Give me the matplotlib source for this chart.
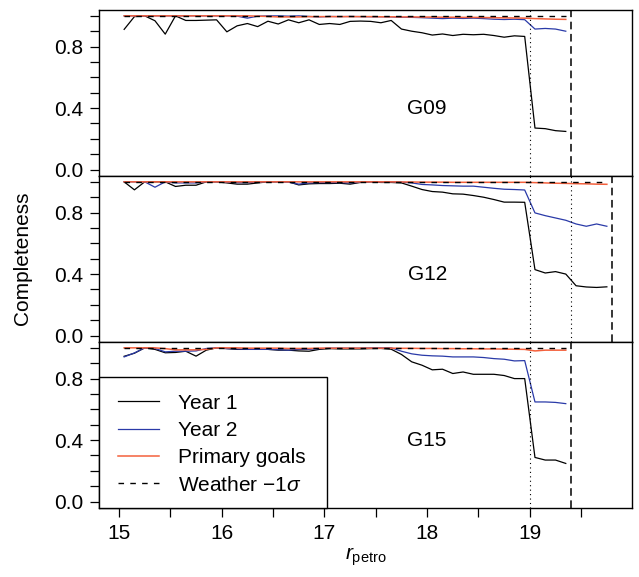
import numpy as np
import matplotlib.pyplot as plt
from matplotlib.patches import Rectangle

plt.rcParams['font.family'] = ['Liberation Sans', 'DejaVu Sans']
plt.rcParams['mathtext.fontset'] = 'custom'
plt.rcParams['mathtext.rm'] = 'Liberation Sans'
plt.rcParams['mathtext.it'] = 'Liberation Sans:italic'

# magnitude bin centres
r_bins = [15.05, 15.15, 15.25, 15.35, 15.45, 15.55, 15.65, 15.75, 15.85, 15.95,
          16.05, 16.15, 16.25, 16.35, 16.45, 16.55, 16.65, 16.75, 16.85, 16.95,
          17.05, 17.15, 17.25, 17.35, 17.45, 17.55, 17.65, 17.75, 17.85, 17.95,
          18.05, 18.15, 18.25, 18.35, 18.45, 18.55, 18.65, 18.75, 18.85, 18.95,
          19.05, 19.15, 19.25, 19.35, 19.45, 19.55, 19.65, 19.75]

g09_year1 = [0.912, 0.995, 1.0, 0.968, 0.881, 1.0, 0.97, 0.97, 0.972, 0.974,
             0.896, 0.935, 0.95, 0.93, 0.965, 0.947, 0.974, 0.955, 0.974, 0.944,
             0.95, 0.944, 0.964, 0.966, 0.964, 0.955, 0.97, 0.914, 0.9, 0.89,
             0.875, 0.882, 0.872, 0.88, 0.877, 0.88, 0.872, 0.861, 0.87, 0.866,
             0.27, 0.266, 0.253, 0.248]
g09_year2 = [1.0, 1.0, 1.0, 1.0, 1.0, 1.0, 1.0, 1.0, 1.0, 1.0,
             1.0, 0.998, 0.985, 0.998, 1.0, 1.0, 0.998, 1.0, 0.996, 0.993,
             0.996, 0.995, 0.996, 0.995, 0.994, 0.994, 0.993, 0.99, 0.99, 0.988,
             0.985, 0.982, 0.985, 0.983, 0.985, 0.982, 0.978, 0.976, 0.978, 0.975,
             0.914, 0.918, 0.914, 0.9]
g09_primary = [1.0, 1.0, 1.0, 1.0, 1.0, 1.0, 1.0, 1.0, 1.0, 1.0,
               1.0, 1.0, 1.0, 0.998, 0.996, 0.993, 0.993, 0.993, 0.995, 0.995,
               0.995, 0.995, 0.995, 0.995, 0.995, 0.994, 0.994, 0.993, 0.993, 0.992,
               0.992, 0.991, 0.991, 0.99, 0.99, 0.989, 0.988, 0.987, 0.986, 0.985,
               0.982, 0.98, 0.978, 0.977]
g09_weather = [1.0] * 44

g12_year1 = [1.0, 0.948, 1.0, 1.0, 1.0, 0.97, 0.978, 0.978, 1.0, 1.0,
             0.993, 0.985, 0.985, 0.993, 1.0, 1.0, 1.0, 0.98, 0.987, 0.989,
             0.989, 0.991, 0.985, 0.996, 1.0, 0.996, 0.996, 0.993, 0.972, 0.95,
             0.937, 0.933, 0.922, 0.92, 0.911, 0.9, 0.885, 0.868, 0.868, 0.867,
             0.429, 0.407, 0.416, 0.4, 0.324, 0.316, 0.313, 0.317]
g12_year2 = [1.0, 1.0, 1.0, 0.965, 1.0, 0.993, 0.993, 0.993, 1.0, 1.0,
             0.998, 0.995, 0.995, 0.998, 1.0, 1.0, 0.998, 0.985, 0.993, 0.995,
             0.995, 0.995, 0.993, 0.998, 1.0, 1.0, 1.0, 0.998, 0.993, 0.983,
             0.98, 0.976, 0.974, 0.972, 0.972, 0.965, 0.958, 0.952, 0.95, 0.947,
             0.798, 0.78, 0.765, 0.75, 0.726, 0.711, 0.726, 0.711]
g12_primary = [1.0, 1.0, 1.0, 1.0, 1.0, 1.0, 1.0, 1.0, 1.0, 1.0,
               1.0, 1.0, 1.0, 1.0, 1.0, 1.0, 1.0, 1.0, 1.0, 1.0,
               1.0, 1.0, 1.0, 1.0, 1.0, 1.0, 1.0, 0.999, 0.999, 0.998,
               0.998, 0.998, 0.997, 0.997, 0.997, 0.997, 0.997, 0.997, 0.997, 0.997,
               0.995, 0.993, 0.991, 0.99, 0.988, 0.987, 0.985, 0.984]
g12_weather = [1.0] * 48

g15_year1 = [0.945, 0.965, 1.0, 0.99, 0.968, 0.97, 0.978, 0.946, 0.985, 1.0,
             0.995, 0.99, 0.99, 0.993, 0.99, 0.985, 0.985, 0.98, 0.978, 0.99,
             0.995, 0.993, 0.993, 0.993, 0.995, 0.996, 0.991, 0.957, 0.909, 0.887,
             0.857, 0.861, 0.833, 0.843, 0.828, 0.828, 0.828, 0.82, 0.8, 0.8,
             0.287, 0.27, 0.27, 0.248]
g15_year2 = [0.941, 0.967, 1.0, 0.996, 0.974, 0.978, 0.978, 0.98, 0.996, 1.0,
             0.995, 0.993, 0.99, 0.99, 0.99, 0.988, 0.985, 0.99, 0.99, 0.995,
             0.998, 0.998, 0.998, 0.998, 1.0, 1.0, 1.0, 0.978, 0.961, 0.952,
             0.948, 0.946, 0.941, 0.941, 0.941, 0.937, 0.93, 0.926, 0.915, 0.917,
             0.648, 0.648, 0.645, 0.637]
g15_primary = [1.0, 1.0, 1.0, 1.0, 0.995, 0.987, 0.987, 0.987, 0.99, 1.0,
               1.0, 1.0, 0.998, 0.998, 0.998, 0.998, 0.996, 0.996, 0.996, 0.998,
               0.998, 0.998, 0.998, 0.998, 0.998, 0.998, 0.998, 0.997, 0.997, 0.996,
               0.996, 0.995, 0.995, 0.994, 0.994, 0.993, 0.993, 0.992, 0.991, 0.99,
               0.98, 0.985, 0.985, 0.985]
g15_weather = [1.0] * 44

regions = ['G09', 'G12', 'G15']
year1 = [g09_year1, g12_year1, g15_year1]
year2 = [g09_year2, g12_year2, g15_year2]
primary = [g09_primary, g12_primary, g15_primary]
weather = [g09_weather, g12_weather, g15_weather]
# magnitude limits: dotted = year 1/2 limits, dashed = final limit
dotted_limits = [[19.0], [19.0, 19.4], [19.0]]
dashed_limits = [[19.4], [19.8], [19.4]]

black = 'black'
blue = '#2a3aa8'
red = '#f4603c'

fig = plt.figure(figsize=(6.39, 5.77), dpi=100)

left, width, height = 0.1554, 0.8332, 0.2877
bottoms = [0.6955, 0.4078, 0.1201]

yticks = np.arange(0, 1.01, 0.1)
ylabels = ['0.0', '', '', '', '0.4', '', '', '', '0.8', '', '']
xticks = [15, 15.5, 16, 16.5, 17, 17.5, 18, 18.5, 19, 19.5]
xlabels = ['15', '', '16', '', '17', '', '18', '', '19', '']

axes = []
for i in range(3):
    ax = fig.add_axes([left, bottoms[i], width, height])
    n = len(year1[i])
    x = r_bins[:n]
    l1, = ax.plot(x, year1[i], color=black, lw=0.9, label='Year 1')
    l2, = ax.plot(x, year2[i], color=blue, lw=0.9, label='Year 2')
    l3, = ax.plot(x, primary[i], color=red, lw=1.1, label='Primary goals')
    l4, = ax.plot(x, weather[i], color=black, lw=1.0, dashes=(4, 4.5),
                  label=r'Weather $-1\sigma$')
    for v in dotted_limits[i]:
        ax.axvline(v, color=black, lw=0.8, ls=(0, (1, 3)))
    for v in dashed_limits[i]:
        ax.axvline(v, color=black, lw=1.1, dashes=(5, 3))
    ax.text(18.0, 0.4, regions[i], fontsize=15, ha='center', va='center')

    ax.set_xlim(14.808, 19.992)
    ax.set_ylim(-0.04, 1.04)
    ax.set_yticks(yticks)
    ax.set_yticklabels(ylabels)
    ax.tick_params(axis='y', direction='out', length=6.5, width=0.9,
                   labelsize=15, pad=5)
    for s in ax.spines.values():
        s.set_linewidth(1.0)
    if i < 2:
        ax.set_xticks([])
    else:
        ax.set_xticks(xticks)
        ax.set_xticklabels(xlabels)
        ax.tick_params(axis='x', direction='out', length=6.5, width=0.9,
                       labelsize=15, pad=5)
    axes.append(ax)

ax = axes[2]
ax.add_patch(Rectangle((0, 0), 0.427, 0.7855, transform=ax.transAxes,
                       facecolor='white', edgecolor='black', lw=1.0,
                       zorder=4, clip_on=False))
leg = ax.legend(handles=[l1, l2, l3, l4], loc='center left',
                bbox_to_anchor=(0.0357, 0.382), frameon=False, fontsize=15,
                handlelength=1.95, handletextpad=0.9, labelspacing=0.4,
                borderpad=0, borderaxespad=0)
leg.set_zorder(5)

fig.text(0.035, 0.552, 'Completeness', rotation=90, fontsize=15,
         ha='center', va='center')
fig.text(0.572, 0.035, r'$r_{\rm petro}$', fontsize=15,
         ha='center', va='center')

plt.savefig('out.png', dpi=100)
